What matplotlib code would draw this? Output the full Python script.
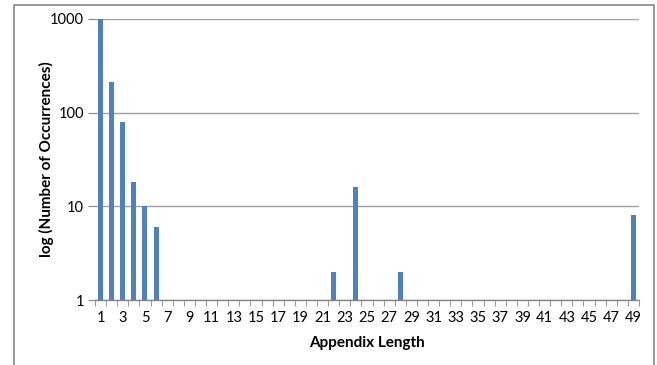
import matplotlib
matplotlib.use("Agg")
import matplotlib.pyplot as plt
from matplotlib.lines import Line2D
import numpy as np

# Data
categories = list(range(1, 50))
counts = {1: 1000, 2: 212, 3: 80, 4: 18, 5: 10, 6: 6, 22: 2, 24: 16, 28: 2, 49: 8}
values = [counts.get(c, 0) for c in categories]
xtick_labels = [str(c) for c in categories if c % 2 == 1]
ytick_values = [1, 10, 100, 1000]

plt.rcParams['font.family'] = ['Lato', 'DejaVu Sans']

W, H = 657, 365
fig = plt.figure(figsize=(W / 100, H / 100), dpi=100)
ax = fig.add_axes([95 / W, 1 - 300 / H, (639 - 95) / W, (300 - 19) / H])

ax.bar(categories, values, width=0.45, color='#4F81BD', zorder=3)
ax.set_yscale('log')
ax.set_ylim(1, 1000)
ax.set_xlim(0.5, 49.5)

ax.set_yticks(ytick_values)
ax.set_yticklabels([str(v) for v in ytick_values])
ax.yaxis.set_minor_locator(matplotlib.ticker.NullLocator())
ax.tick_params(axis='y', which='major', length=5, color='#868686', labelsize=10.5, pad=3, labelcolor='#000000')

odd = [c for c in categories if c % 2 == 1]
ax.set_xticks(odd)
ax.set_xticklabels(xtick_labels)
ax.set_xticks(np.arange(0.5, 50, 1.0), minor=True)
ax.tick_params(axis='x', which='major', length=0, labelsize=10.5, pad=8)
ax.tick_params(axis='x', which='minor', length=4, color='#868686', direction='out')

ax.grid(axis='y', which='major', color='#A0A0A0', linewidth=1, zorder=0)
for s in ['top', 'right', 'left']:
    ax.spines[s].set_visible(False)
ax.spines['bottom'].set_color('#868686')
ax.spines['bottom'].set_linewidth(1)

ax.set_xlabel('Appendix Length', fontsize=11, fontweight='bold', labelpad=7.5)
ax.set_ylabel('log (Number of Occurrences)', fontsize=11, fontweight='bold', labelpad=-3)

# outer chart border (left, top, right)
bx0, bx1, by0 = 13.5 / W, 654 / W, 1 - 5 / H
fig.add_artist(Line2D([bx0, bx0, bx1, bx1], [0, by0, by0, 0], transform=fig.transFigure,
                      color='#868686', linewidth=1.2))

fig.savefig('out.png', dpi=100)
